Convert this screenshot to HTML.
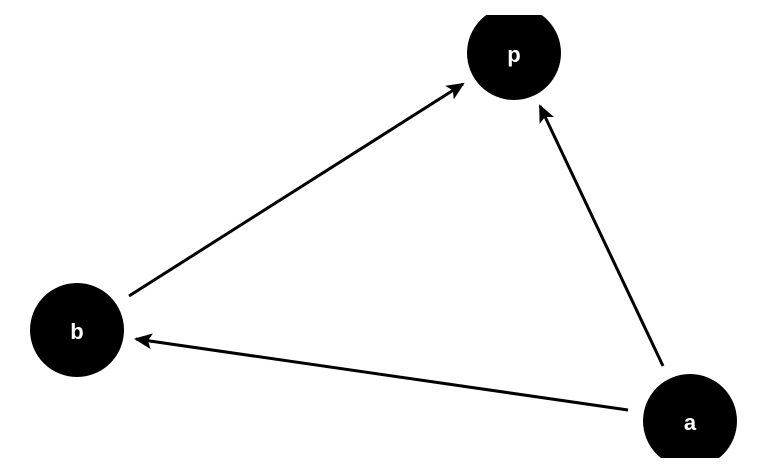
<!DOCTYPE html>
<html><head><style>
html,body{margin:0;padding:0;background:#fff;width:768px;height:474px;overflow:hidden}
</style></head><body>
<svg width="768" height="474" viewBox="0 0 768 474" xmlns="http://www.w3.org/2000/svg">
<defs>
<clipPath id="c"><rect x="0" y="15" width="768" height="443"/></clipPath>
<marker id="m" markerWidth="18" markerHeight="16" refX="16" refY="8" orient="auto" markerUnits="userSpaceOnUse" viewBox="0 0 18 16">
<path d="M0,0 L18,8 L0,16 L4,8 z" fill="#000"/>
</marker>
</defs>
<g clip-path="url(#c)">
<circle cx="514" cy="53" r="47" fill="#000"/>
<circle cx="77" cy="330" r="47" fill="#000"/>
<circle cx="690" cy="421" r="47" fill="#000"/>
</g>
<g stroke="#000" stroke-width="3" fill="none">
<line x1="129" y1="296" x2="463" y2="84" marker-end="url(#m)"/>
<line x1="663" y1="366" x2="540" y2="106" marker-end="url(#m)"/>
<line x1="628" y1="410" x2="136" y2="339" marker-end="url(#m)"/>
</g>
<g font-family="Liberation Sans, sans-serif" font-weight="bold" font-size="22" fill="#fff" text-anchor="middle">
<text x="514" y="62">p</text>
<text x="77" y="339">b</text>
<text x="690" y="430">a</text>
</g>
</svg>
</body></html>
